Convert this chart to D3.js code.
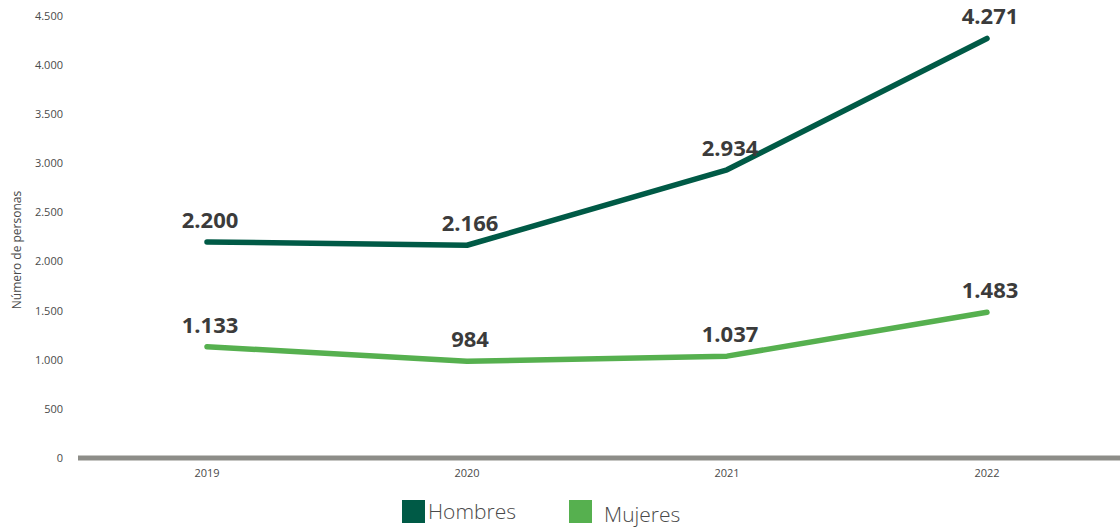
<!DOCTYPE html>
<html>
<head>
<meta charset="utf-8">
<script src="https://cdn.jsdelivr.net/npm/d3@7"></script>
<style>
  body { margin: 0; background: #fff; }
  svg { display: block; font-family: "Open Sans", Lato, sans-serif; }
</style>
</head>
<body>
<svg id="chart" width="1120" height="529"></svg>
<script>
var years = ["2019", "2020", "2021", "2022"];
var hombres = [2200, 2166, 2934, 4271];
var mujeres = [1133, 984, 1037, 1483];
var y_ticks = [0, 500, 1000, 1500, 2000, 2500, 3000, 3500, 4000, 4500];
var series_names = ["Hombres", "Mujeres"];
var series_colors = ["#005a46", "#56b04f"];

var svg = d3.select("#chart");

var x = d3.scalePoint()
    .domain(years)
    .range([77, 1117])
    .padding(0.5);
var y = d3.scaleLinear()
    .domain([0, 4500])
    .range([458, 16]);

// miles con punto
var fmt = function(v) { return d3.format(",")(v).replace(/,/g, "."); };

// eje y, solo etiquetas
svg.append("g")
    .selectAll("text")
    .data(y_ticks)
    .enter().append("text")
    .attr("x", 63)
    .attr("y", function(d) { return y(d); })
    .attr("dy", "0.35em")
    .attr("text-anchor", "end")
    .attr("font-size", 11)
    .attr("fill", "#4a4a4a")
    .text(fmt);

svg.append("text")
    .attr("transform", "translate(21,250) rotate(-90)")
    .attr("text-anchor", "middle")
    .attr("font-size", 12)
    .attr("fill", "#4a4a4a")
    .text("Número de personas");

// linea base
svg.append("line")
    .attr("x1", 78).attr("x2", 1120)
    .attr("y1", y(0)).attr("y2", y(0))
    .attr("stroke", "#8d8d88")
    .attr("stroke-width", 5);

svg.append("g")
    .selectAll("text")
    .data(years)
    .enter().append("text")
    .attr("x", function(d) { return x(d); })
    .attr("y", 477)
    .attr("text-anchor", "middle")
    .attr("font-size", 11)
    .attr("fill", "#4a4a4a")
    .text(function(d) { return d; });

var line = d3.line()
    .x(function(d, i) { return x(years[i]); })
    .y(function(d) { return y(d); });

[hombres, mujeres].forEach(function(values, k) {
    svg.append("path")
        .datum(values)
        .attr("d", line)
        .attr("fill", "none")
        .attr("stroke", series_colors[k])
        .attr("stroke-width", 5.5)
        .attr("stroke-linecap", "round")
        .attr("stroke-linejoin", "round");

    svg.append("g")
        .selectAll("text")
        .data(values)
        .enter().append("text")
        .attr("x", function(d, i) { return x(years[i]) + 3; })
        .attr("y", function(d) { return y(d) - 14; })
        .attr("text-anchor", "middle")
        .attr("font-size", 22)
        .attr("font-weight", "bold")
        .attr("fill", "#3b3b3b")
        .text(fmt);
});

// leyenda
var legend_x = [402, 569];
var legend = svg.append("g")
    .selectAll("g")
    .data(series_names)
    .enter().append("g")
    .attr("transform", function(d, i) { return "translate(" + legend_x[i] + ",500)"; });

legend.append("rect")
    .attr("width", 23)
    .attr("height", 23)
    .attr("fill", function(d, i) { return series_colors[i]; });

legend.append("text")
    .attr("x", function(d, i) { return i == 0 ? 26 : 35; })
    .attr("y", function(d, i) { return i == 0 ? 19 : 22; })
    .attr("font-size", 21)
    .attr("font-weight", 300)
    .attr("fill", "#4a4a4a")
    .text(function(d) { return d; });
</script>
</body>
</html>
